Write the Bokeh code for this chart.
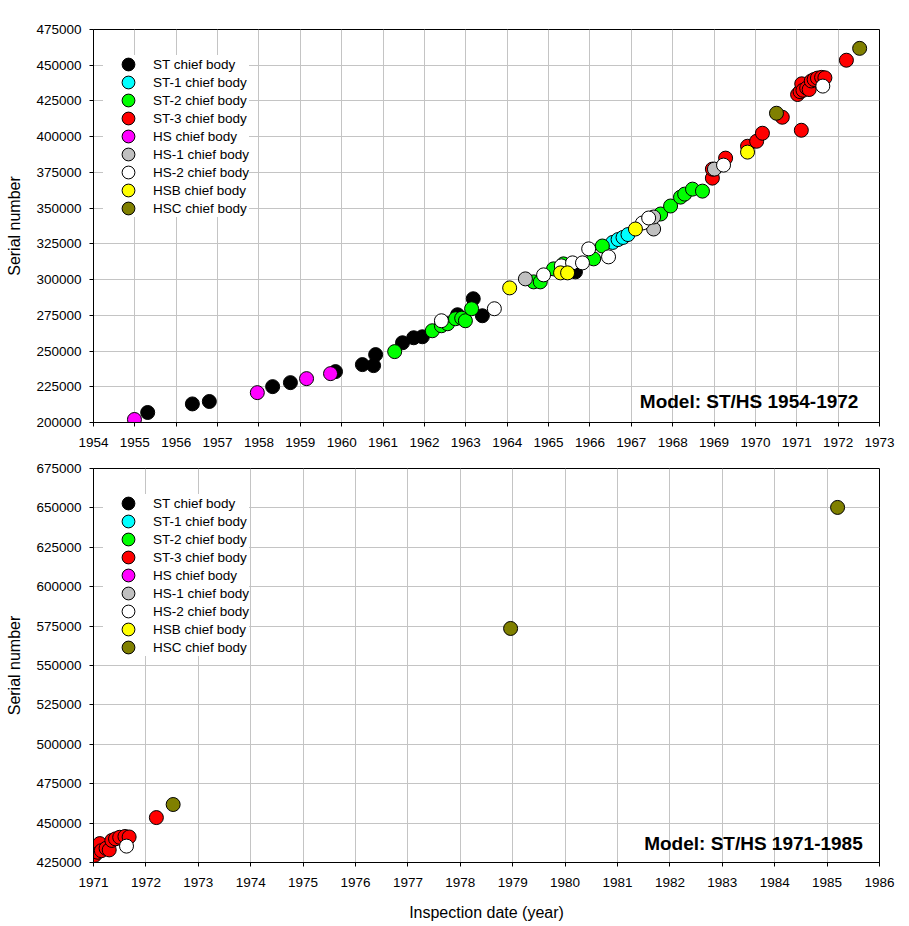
from bokeh.plotting import figure
from bokeh.layouts import column
from bokeh.models import FixedTicker, Label, BasicTickFormatter, Range1d
from bokeh.embed import file_html
from bokeh.resources import INLINE

# ---------------- data ----------------
series_names = ["ST chief body", "ST-1 chief body", "ST-2 chief body", "ST-3 chief body",
                "HS chief body", "HS-1 chief body", "HS-2 chief body", "HSB chief body",
                "HSC chief body"]
series_colors = ["#000000", "#00ffff", "#00ff00", "#ff0000",
                 "#ff00ff", "#c0c0c0", "#ffffff", "#ffff00", "#808000"]

st_year = [1955.31, 1956.39, 1956.80, 1958.33, 1958.76, 1959.85, 1960.50, 1960.77, 1960.82,
           1961.47, 1961.74, 1961.95, 1962.80, 1963.18, 1963.40, 1965.65]
st_serial = [207000, 213000, 214700, 225100, 227900, 235600, 240500, 239800, 247500,
             255800, 259300, 260000, 275400, 286600, 274700, 305400]

st1_year = [1966.55, 1966.68, 1966.80, 1966.92]
st1_serial = [326000, 328000, 329500, 331500]

st2_year = [1961.28, 1962.19, 1962.41, 1962.56, 1962.75, 1962.90, 1962.99, 1963.14,
            1964.64, 1964.80, 1965.12, 1965.36, 1966.09, 1966.30, 1967.71, 1967.95,
            1968.19, 1968.29, 1968.48, 1968.72]
st2_serial = [249600, 264200, 267700, 269100, 272600, 273000, 271200, 279600,
              298400, 298400, 307500, 311000, 314500, 323500, 345900, 351500,
              357700, 359800, 363300, 361900]

st3_year = [1968.96, 1968.96, 1969.28, 1969.81, 1970.03, 1970.17, 1970.65, 1971.11,
            1971.02, 1971.08, 1971.12, 1971.15, 1971.24, 1971.30, 1971.35, 1971.42,
            1971.50, 1971.60, 1971.68, 1972.20]
st3_serial = [371000, 377300, 385000, 393300, 396800, 402400, 413600, 404500,
              429500, 431500, 437000, 432500, 434000, 433000, 439000, 440000,
              441000, 441500, 441200, 453500]

hs_year = [1954.99, 1957.96, 1959.15, 1959.73]
hs_serial = [202100, 220900, 230700, 234200]

hs1_year = [1964.44, 1967.54, 1967.54, 1969.01]
hs1_serial = [300500, 335400, 343800, 377300]

hs2_year = [1962.41, 1963.69, 1964.88, 1965.31, 1965.58, 1965.82, 1965.97, 1966.45,
            1967.27, 1967.42, 1969.23, 1971.63]
hs2_serial = [271200, 279600, 303300, 309600, 311700, 311700, 321500, 315900,
              339600, 343100, 380100, 435400]

hsb_year = [1964.06, 1965.29, 1965.46, 1967.10, 1969.81]
hsb_serial = [294200, 304700, 304700, 335400, 389200]

hsc_year = [1970.51, 1972.52, 1978.96, 1985.20]
hsc_serial = [416400, 461800, 573500, 650300]

series_years = [st_year, st1_year, st2_year, st3_year, hs_year, hs1_year, hs2_year, hsb_year, hsc_year]
series_serials = [st_serial, st1_serial, st2_serial, st3_serial, hs_serial, hs1_serial, hs2_serial,
                  hsb_serial, hsc_serial]

top_year_ticks = [1954, 1955, 1956, 1957, 1958, 1959, 1960, 1961, 1962, 1963, 1964, 1965,
                  1966, 1967, 1968, 1969, 1970, 1971, 1972, 1973]
top_serial_ticks = [200000, 225000, 250000, 275000, 300000, 325000, 350000, 375000,
                    400000, 425000, 450000, 475000]
bot_year_ticks = [1971, 1972, 1973, 1974, 1975, 1976, 1977, 1978, 1979, 1980, 1981, 1982,
                  1983, 1984, 1985, 1986]
bot_serial_ticks = [425000, 450000, 475000, 500000, 525000, 550000, 575000, 600000,
                    625000, 650000, 675000]

FONT = "Liberation Sans"


def make_fig(xticks, yticks, height, b_top, b_bottom, xlabel, model_text, lab_x, lab_y):
    p = figure(width=901, height=height,
               x_range=Range1d(xticks[0], xticks[-1]), y_range=Range1d(yticks[0], yticks[-1]),
               min_border_left=93, min_border_right=22, min_border_top=b_top,
               min_border_bottom=b_bottom, output_backend="svg", toolbar_location=None,
               background_fill_color="white", border_fill_color="white")
    p.outline_line_color = "black"
    p.outline_line_width = 1
    p.outline_line_alpha = 1
    for g in (p.xgrid, p.ygrid):
        g.grid_line_color = "#c4c4c4"
        g.grid_line_width = 1
    p.xaxis.ticker = FixedTicker(ticks=xticks)
    p.yaxis.ticker = FixedTicker(ticks=yticks)
    p.yaxis.formatter = BasicTickFormatter(use_scientific=False)
    for ax in (p.xaxis, p.yaxis):
        ax.axis_line_color = "black"
        ax.major_tick_line_color = "black"
        ax.major_tick_in = 0
        ax.major_tick_out = 4
        ax.minor_tick_line_color = None
        ax.major_label_text_font = FONT
        ax.major_label_text_font_size = "13.5px"
        ax.major_label_text_color = "#000000"
        ax.axis_label_text_font = FONT
        ax.axis_label_text_font_size = "16px"
        ax.axis_label_text_font_style = "normal"
        ax.axis_label_text_color = "#000000"
    p.xaxis.major_label_standoff = 11
    p.yaxis.major_label_standoff = 8
    p.yaxis.axis_label = "Serial number"
    p.yaxis.axis_label_standoff = 10
    if xlabel:
        p.xaxis.axis_label = xlabel
        p.xaxis.axis_label_standoff = 14

    for name, col, xs, ys in zip(series_names, series_colors, series_years, series_serials):
        p.ellipse(xs, ys, width=14, height=14, width_units="screen", height_units="screen",
                  fill_color=col, line_color="black", line_width=1, legend_label=name)

    lg = p.legend[0]
    lg.location = (10, height - b_top - b_bottom - 188)
    lg.padding = 10
    lg.margin = 0
    lg.glyph_width = 50
    lg.glyph_height = 16
    lg.label_height = 18
    lg.spacing = 0
    lg.label_standoff = -2
    lg.label_text_font = FONT
    lg.label_text_font_size = "13.5px"
    lg.label_text_color = "#000000"
    lg.border_line_color = None
    lg.background_fill_color = "white"
    lg.background_fill_alpha = 1.0

    p.add_layout(Label(x=lab_x, y=lab_y, text=model_text, text_align="right",
                       text_baseline="alphabetic", text_font=FONT, text_font_size="19px",
                       text_font_style="bold", text_color="#000000"))
    return p


p1 = make_fig(top_year_ticks, top_serial_ticks, 454, 29, 32, None,
              "Model: ST/HS 1954-1972", 1972.49, 215000)
p2 = make_fig(bot_year_ticks, bot_serial_ticks, 472, 14, 64, "Inspection date (year)",
              "Model: ST/HS 1971-1985", 1985.68, 437300)

layout = column(p1, p2, spacing=0)
open("out.html", "w").write(file_html(layout, INLINE))
